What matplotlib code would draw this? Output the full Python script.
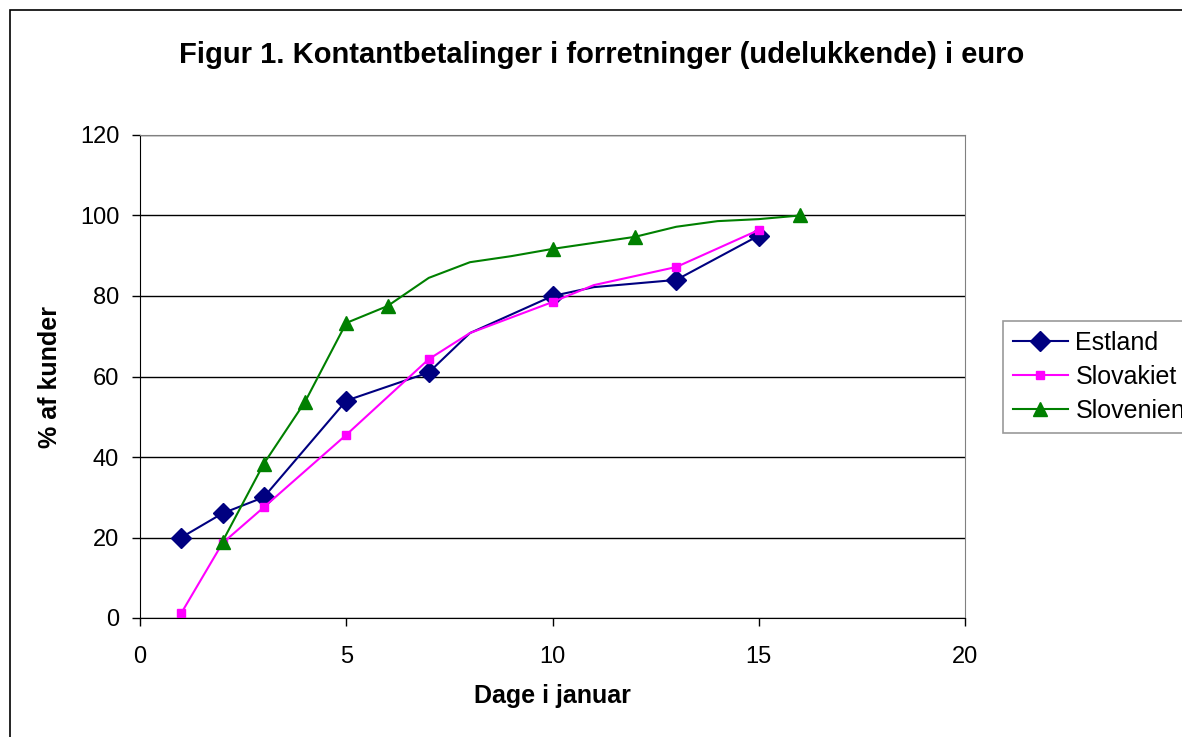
import matplotlib
matplotlib.use("Agg")
import matplotlib.pyplot as plt
from matplotlib.patches import Rectangle

plt.rcParams["font.family"] = ["Liberation Sans", "DejaVu Sans"]

# Estland
est_days = [1, 2, 3, 5, 7, 8, 10, 11, 13, 15]
est_vals = [20, 26, 30, 54, 61, 70.8, 80, 82.2, 84, 95]
est_marked = [1, 2, 3, 5, 7, 10, 13, 15]

# Slovakiet
svk_days = [1, 2, 3, 5, 7, 8, 10, 11, 13, 15]
svk_vals = [1.2, 18.6, 27.5, 45.5, 64.3, 70.8, 78.5, 82.7, 87.2, 96.4]
svk_marked = [1, 2, 3, 5, 7, 10, 13, 15]

# Slovenien
slo_days = [2, 3, 4, 5, 6, 7, 8, 9, 10, 11, 12, 13, 14, 15, 16]
slo_vals = [19, 38.3, 53.7, 73.3, 77.5, 84.5, 88.4, 89.9, 91.7, 93.2, 94.7, 97.2, 98.6, 99.1, 100]
slo_marked = [2, 3, 4, 5, 6, 10, 12, 16]

title = "Figur 1. Kontantbetalinger i forretninger (udelukkende) i euro"


def main() -> None:
    fig = plt.figure(figsize=(11.82, 7.37), dpi=100)
    # outer chart border; right and bottom edges fall outside the image
    fig.patches.append(Rectangle((10 / 1182, -0.05), 1.1, 1 - 10 / 737 + 0.05,
                                 transform=fig.transFigure, fill=False,
                                 edgecolor="black", linewidth=1.2))
    ax = fig.add_axes([140 / 1182, 1 - 618 / 737, 825 / 1182, 483 / 737])

    series = [
        ("Estland", est_days, est_vals, est_marked, "#000080", "D", 10),
        ("Slovakiet", svk_days, svk_vals, svk_marked, "#FF00FF", "s", 5.5),
        ("Slovenien", slo_days, slo_vals, slo_marked, "#008000", "^", 10.5),
    ]
    for name, days, vals, marked, color, marker, ms in series:
        idx = [days.index(d) for d in marked]
        ax.plot(days, vals, color=color, linewidth=1.5, marker=marker,
                markersize=ms, markevery=idx, markerfacecolor=color,
                markeredgecolor=color, label=name)

    ax.set_xlim(0, 20)
    ax.set_ylim(0, 120)
    ax.set_xticks(range(0, 21, 5))
    ax.set_yticks(range(0, 121, 20))
    ax.tick_params(labelsize=17, direction="out", length=6, width=1)
    ax.tick_params(axis="y", pad=9)
    ax.tick_params(axis="x", pad=14)
    ax.grid(True, axis="y", color="black", linewidth=1)
    ax.set_axisbelow(True)
    for side in ["top", "right"]:
        ax.spines[side].set_color("#808080")
    for side in ["left", "bottom"]:
        ax.spines[side].set_color("black")

    ax.set_xlabel("Dage i januar", fontsize=18, fontweight="bold", labelpad=12)
    ax.set_ylabel("% af kunder", fontsize=18, fontweight="bold", labelpad=13)
    fig.text(602 / 1182, 1 - 55 / 737, title, fontsize=21, fontweight="bold",
             ha="center", va="center")

    leg = ax.legend(loc="center left", bbox_to_anchor=(1.046, 0.5), borderaxespad=0,
                    fontsize=18, frameon=True, fancybox=False, edgecolor="#808080",
                    borderpad=0.4, handlelength=2.2, labelspacing=0.4, handletextpad=0.3)
    leg.get_frame().set_linewidth(1.2)

    fig.savefig("out.png", dpi=100)


if __name__ == "__main__":
    main()
